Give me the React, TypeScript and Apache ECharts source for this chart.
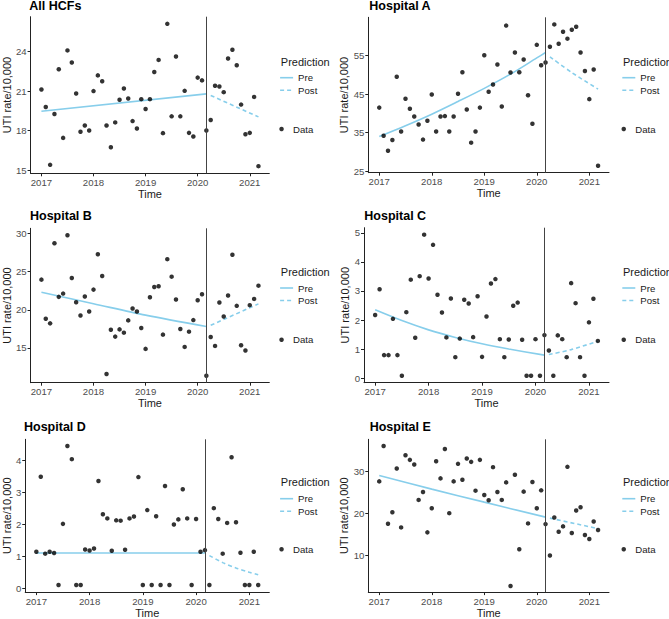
import React, { useEffect, useRef } from "react";
import * as echarts from "echarts";

// ---------- data ----------
const panelTitles = ["All HCFs", "Hospital A", "Hospital B", "Hospital C", "Hospital D", "Hospital E"];
const firstYear = 2017;
const xTickLabels = [2017, 2018, 2019, 2020, 2021];
const interventionMonth = 38; // March 2020

const allHCFs = [21.12, 19.8, 15.42, 19.27, 22.65, 17.46, 24.08, 23.16, 20.82, 17.92, 18.4, 18.02,
  21.0, 22.19, 21.74, 18.4, 16.75, 18.63, 20.34, 21.2, 20.44, 18.73, 18.17, 20.39,
  19.65, 20.39, 22.45, 23.36, 17.82, 26.09, 19.09, 23.62, 19.09, 21.02, 17.84, 17.56,
  22.02, 21.81, 18.02, 18.81, 21.4, 21.35, 20.92, 23.47, 24.13, 22.96, 19.98, 17.74,
  17.84, 20.56, 15.32];
const hospitalA = [41.5, 34.2, 30.3, 33.1, 49.5, 35.3, 43.8, 41.2, 39.2, 37.1, 33.2, 38.1,
  44.9, 35.3, 39.2, 39.3, 35.3, 39.2, 45.1, 50.7, 41.0, 32.4, 35.3, 41.5,
  55.1, 45.6, 47.5, 52.7, 41.8, 62.8, 50.6, 55.8, 50.7, 54.0, 44.7, 37.3,
  57.8, 52.5, 53.2, 57.3, 63.1, 58.1, 61.2, 59.4, 61.7, 62.5, 55.8, 51.0,
  43.7, 51.4, 26.4];
const hospitalB = [23.96, 18.83, 18.22, 28.74, 21.7, 22.13, 29.78, 24.17, 21.0, 19.26, 21.74, 19.78,
  22.65, 27.3, 24.43, 11.57, 17.39, 16.48, 17.43, 17.0, 18.61, 20.17, 19.78, 17.61,
  14.87, 21.65, 23.0, 23.09, 16.74, 26.65, 24.35, 21.35, 17.48, 15.13, 17.13, 18.65,
  21.26, 22.04, 11.35, 16.43, 15.26, 20.96, 19.13, 21.87, 27.22, 20.52, 15.35, 14.65,
  20.61, 21.43, 23.17];
const hospitalC = [2.17, 3.06, 0.79, 0.79, 2.04, 0.79, 0.08, 2.27, 3.39, 1.39, 3.51, 4.94,
  3.43, 4.59, 2.87, 2.26, 1.40, 2.74, 0.72, 1.36, 2.70, 2.57, 1.41, 2.82,
  0.73, 2.12, 3.26, 3.41, 1.34, 0.72, 1.33, 2.49, 2.60, 1.32, 0.08, 0.08,
  1.34, 0.08, 1.48, 0.95, 0.08, 1.47, 1.34, 0.72, 3.27, 2.58, 0.72, 0.08,
  1.92, 2.73, 1.28];
const hospitalD = [1.14, 3.48, 1.08, 1.14, 1.10, 0.10, 2.01, 4.44, 4.03, 0.10, 0.10, 1.21,
  1.18, 1.24, 3.35, 2.31, 2.18, 1.17, 2.12, 2.11, 1.20, 2.18, 2.24, 3.47,
  0.10, 2.44, 0.10, 2.25, 0.10, 3.19, 0.10, 1.99, 2.15, 3.09, 2.18, 0.10,
  2.16, 1.14, 1.19, 0.10, 2.50, 2.16, 1.08, 2.04, 4.09, 2.06, 1.11, 0.10,
  0.10, 1.14, 0.10];
const hospitalE = [27.64, 36.06, 17.56, 20.31, 30.71, 16.69, 33.86, 32.76, 31.65, 23.23, 25.12, 15.51,
  21.26, 32.44, 28.35, 35.35, 20.08, 27.64, 31.81, 28.03, 33.07, 32.28, 25.43, 32.76,
  24.41, 23.15, 31.02, 25.12, 23.23, 27.4, 2.76, 29.21, 11.5, 25.2, 17.64, 27.48,
  21.26, 25.51, 17.48, 10.0, 19.06, 15.67, 16.93, 31.1, 15.35, 20.71, 21.5, 14.88,
  13.94, 18.11, 16.06];
const observed = [allHCFs, hospitalA, hospitalB, hospitalC, hospitalD, hospitalE];

// fitted "Pre" predictions: [month index, value]
const preAll = [[0, 19.47], [38, 20.79]];
const preA = [[0, 34.0], [6, 36.8], [12, 39.8], [18, 43.1], [24, 46.5], [30, 50.2], [36, 54.4], [38, 55.8]];
const preB = [[0, 22.3], [12, 20.8], [24, 19.3], [38, 17.8]];
const preC = [[0, 2.35], [6, 1.98], [12, 1.66], [18, 1.40], [24, 1.18], [30, 1.0], [38, 0.79]];
const preD = [[0, 1.1], [38, 1.1]];
const preE = [[0, 29.06], [12, 25.8], [24, 22.7], [38, 19.13]];
const preLines = [preAll, preA, preB, preC, preD, preE];

// counterfactual "Post" predictions
const postAll = [[39, 20.67], [50, 19.05]];
const postA = [[39, 54.7], [44, 50.6], [50, 46.3]];
const postB = [[39, 17.96], [50, 20.78]];
const postC = [[39, 0.81], [44, 0.98], [50, 1.27]];
const postD = [[39, 1.02], [42, 0.80], [45, 0.63], [48, 0.50], [50, 0.42]];
const postE = [[39, 18.9], [50, 16.4]];
const postLines = [postAll, postA, postB, postC, postD, postE];

// y axis ranges and ticks
const yMins = [14.78, 24.6, 10.43, -0.16, -0.12, 1.3];
const yMaxs = [26.63, 64.95, 30.7, 5.18, 4.65, 37.65];
const yTicks = [[15, 18, 21, 24], [25, 35, 45, 55], [15, 20, 25, 30], [0, 1, 2, 3, 4, 5], [0, 1, 2, 3, 4], [10, 20, 30]];

// ---------- layout ----------
const grids = [
  { left: 29.3, top: 16.7, width: 240, height: 156.6 },
  { left: 368.3, top: 17.3, width: 240.7, height: 155.4 },
  { left: 29.3, top: 228.3, width: 240, height: 154.4 },
  { left: 364, top: 227.7, width: 245, height: 155 },
  { left: 24, top: 439.3, width: 245.3, height: 154 },
  { left: 368.3, top: 439.3, width: 240.7, height: 154 },
];
const titlePos = [[29.3, 6], [369.3, 6], [30, 216], [364.3, 216], [24, 426.7], [369.7, 426.7]];
const legendPos = [
  { x: 279.3, pred: 61.7, pre: 77.7, data: 129 },
  { x: 621.5, pred: 62, pre: 77.7, data: 129 },
  { x: 279.3, pred: 271.7, pre: 288, data: 339.7 },
  { x: 621.5, pred: 271.7, pre: 288, data: 339.7 },
  { x: 279.3, pred: 482, pre: 498.7, data: 549.3 },
  { x: 621.5, pred: 482, pre: 498.7, data: 549.3 },
];

const FONT = "'Liberation Sans', Arial, Helvetica, sans-serif";
const LINE_COLOR = "#87CEEB";
const AXIS_COLOR = "#222";
const toX = (m: number) => firstYear + m / 12;

function buildOption() {
  const title: any[] = [];
  const legend: any[] = [];
  const grid: any[] = [];
  const xAxis: any[] = [];
  const yAxis: any[] = [];
  const series: any[] = [];

  panelTitles.forEach((name, i) => {
    grid.push({ ...grids[i] });
    title.push({
      text: name, left: titlePos[i][0], top: titlePos[i][1] - 7, padding: 0,
      textStyle: { fontFamily: FONT, fontSize: 12.5, fontWeight: "bold", color: "#000", lineHeight: 14 },
    });
    const lp = legendPos[i];
    title.push({
      text: "Prediction", left: lp.x + 1.5, top: lp.pred - 6.5, padding: 0,
      textStyle: { fontFamily: FONT, fontSize: 11, fontWeight: "normal", color: "#1a1a1a", lineHeight: 13 },
    });
    legend.push({
      orient: "vertical", left: lp.x, top: lp.pre - 5, padding: 0,
      itemWidth: 13, itemHeight: 10, itemGap: 2.5, selectedMode: false,
      data: ["Pre", "Post"],
      itemStyle: { color: "rgba(0,0,0,0)", opacity: 0, borderWidth: 0 },
      lineStyle: { width: 1.6, color: LINE_COLOR },
      textStyle: { fontFamily: FONT, fontSize: 9.6, color: "#1a1a1a" },
    });
    legend.push({
      orient: "vertical", left: lp.x, top: lp.data - 5, padding: 0,
      itemWidth: 13, itemHeight: 4.5, selectedMode: false,
      data: [{ name: "Data", icon: "circle" }],
      textStyle: { fontFamily: FONT, fontSize: 9.6, color: "#1a1a1a", lineHeight: 10 },
    });
    xAxis.push({
      type: "value", gridIndex: i, min: toX(-2.5), max: toX(52.5),
      name: "Time", nameLocation: "middle", nameGap: 14,
      nameTextStyle: { fontFamily: FONT, fontSize: 11, color: "#1a1a1a" },
      axisLine: { show: true, onZero: false, lineStyle: { color: AXIS_COLOR, width: 1 } },
      axisTick: { show: true, length: 3, lineStyle: { color: AXIS_COLOR }, customValues: xTickLabels },
      axisLabel: { fontFamily: FONT, fontSize: 9.6, color: "#4d4d4d", margin: 4, customValues: xTickLabels, formatter: (v: number) => String(Math.round(v)) },
      splitLine: { show: false },
    });
    yAxis.push({
      type: "value", gridIndex: i, min: yMins[i], max: yMaxs[i],
      name: "UTI rate/10,000", nameLocation: "middle", nameGap: i === 3 || i === 4 ? 13 : 18,
      nameTextStyle: { fontFamily: FONT, fontSize: 11, color: "#1a1a1a" },
      axisLine: { show: true, onZero: false, lineStyle: { color: AXIS_COLOR, width: 1 } },
      axisTick: { show: true, length: 3, lineStyle: { color: AXIS_COLOR }, customValues: yTicks[i] },
      axisLabel: { fontFamily: FONT, fontSize: 9.6, color: "#4d4d4d", margin: 4, customValues: yTicks[i] },
      splitLine: { show: false },
    });
    series.push({
      name: "Data", type: "scatter", xAxisIndex: i, yAxisIndex: i,
      symbol: "circle", symbolSize: 4.5, itemStyle: { color: "#000" },
      data: observed[i].map((v, m) => [toX(m), v]),
      markLine: {
        silent: true, symbol: ["none", "none"], label: { show: false },
        lineStyle: { color: "#444", width: 1, type: "solid" },
        data: [{ xAxis: toX(interventionMonth) }],
      },
      z: 3,
    });
    series.push({
      name: "Pre", type: "line", xAxisIndex: i, yAxisIndex: i,
      symbol: "none", smooth: preLines[i].length > 2 ? 0.3 : false,
      lineStyle: { color: LINE_COLOR, width: 1.6, type: "solid" },
      itemStyle: { color: LINE_COLOR },
      data: preLines[i].map(([m, v]) => [toX(m), v]),
      z: 2,
    });
    series.push({
      name: "Post", type: "line", xAxisIndex: i, yAxisIndex: i,
      symbol: "none", smooth: postLines[i].length > 2 ? 0.3 : false,
      lineStyle: { color: LINE_COLOR, width: 1.6, type: [4, 3] },
      itemStyle: { color: LINE_COLOR },
      data: postLines[i].map(([m, v]) => [toX(m), v]),
      z: 2,
    });
  });

  return { animation: false, backgroundColor: "#fff", title, legend, grid, xAxis, yAxis, series };
}

export default function App() {
  const ref = useRef<HTMLDivElement>(null);
  useEffect(() => {
    if (!ref.current) return;
    const chart = echarts.init(ref.current, null, { renderer: "svg" });
    chart.setOption(buildOption() as any);
    return () => chart.dispose();
  }, []);
  return (
    <div
      ref={ref}
      style={{ position: "absolute", left: 0, top: 0, width: 669, height: 619, background: "#fff" }}
    />
  );
}
